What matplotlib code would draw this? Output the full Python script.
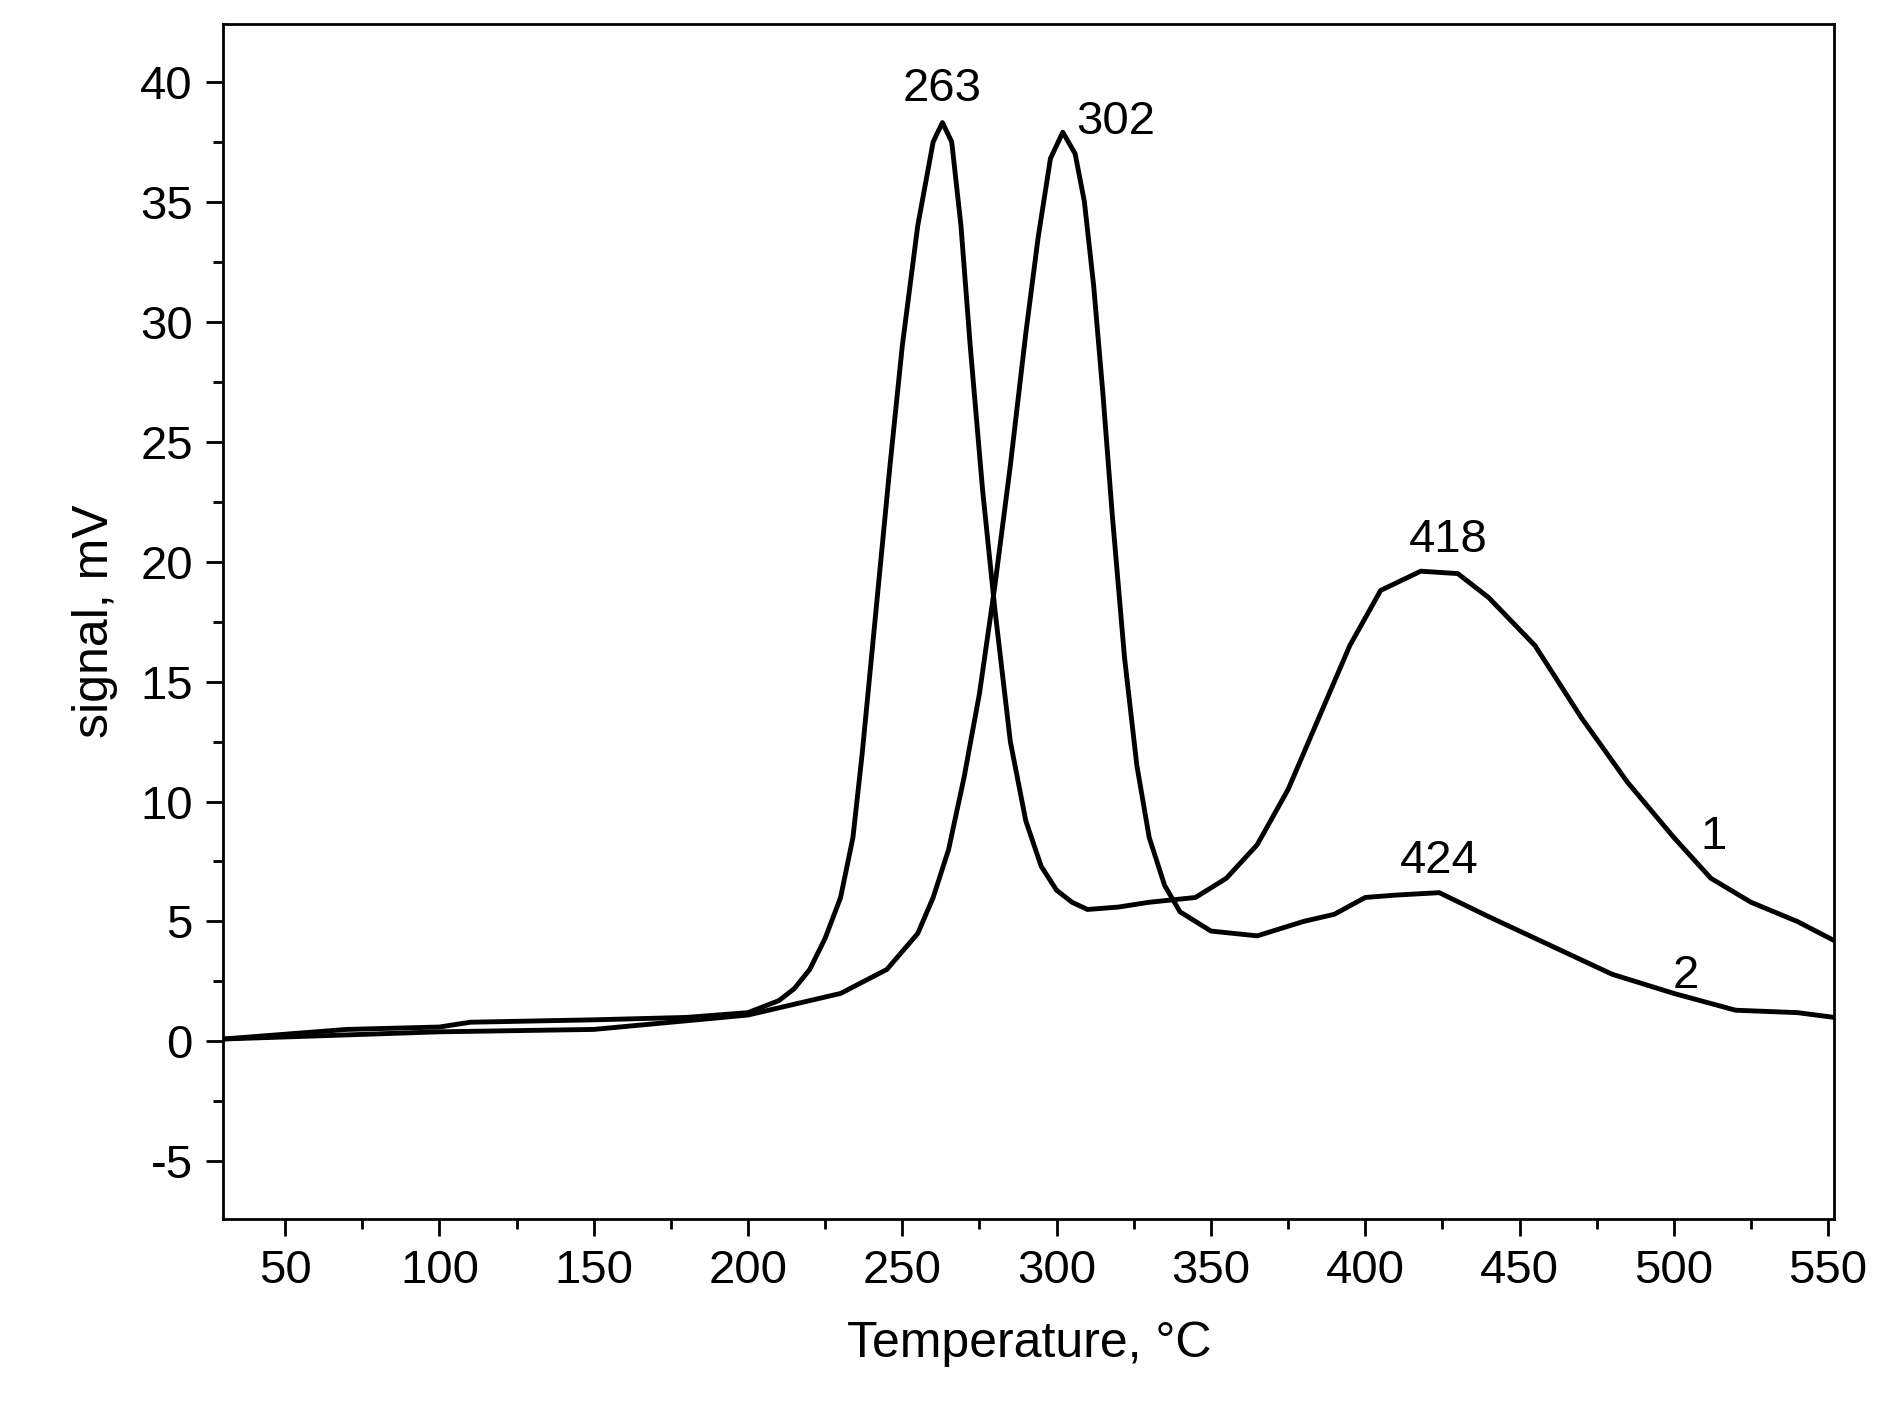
import matplotlib
matplotlib.use("Agg")
import matplotlib.pyplot as plt
from matplotlib.ticker import MultipleLocator

plt.rcParams["font.family"] = "Liberation Sans"
plt.rcParams["axes.unicode_minus"] = False

# curve 1 (peaks 263, 418)
t1 = [30, 70, 100, 110, 150, 180, 200, 210, 215, 220, 225, 230, 234, 237, 240, 243, 246, 250, 255,
      260, 263, 266, 269, 272, 276, 280, 285, 290, 295, 300, 305, 310, 320, 330, 345, 355, 365,
      375, 385, 395, 405, 418, 430, 440, 455, 470, 485, 500, 512, 525, 540, 552]
s1 = [0.1, 0.5, 0.6, 0.8, 0.9, 1.0, 1.2, 1.7, 2.2, 3.0, 4.3, 6.0, 8.5, 12, 16, 20, 24, 29, 34,
      37.5, 38.3, 37.5, 34, 29, 23, 18, 12.5, 9.2, 7.3, 6.3, 5.8, 5.5, 5.6, 5.8, 6.0, 6.8, 8.2,
      10.5, 13.5, 16.5, 18.8, 19.6, 19.5, 18.5, 16.5, 13.5, 10.8, 8.5, 6.8, 5.8, 5.0, 4.2]

# curve 2 (peaks 302, 424)
t2 = [30, 100, 150, 200, 230, 245, 255, 260, 265, 270, 275, 280, 285, 290, 294, 298, 302, 306,
      309, 312, 315, 318, 322, 326, 330, 335, 340, 350, 365, 380, 390, 400, 410, 424, 440, 460,
      480, 500, 520, 540, 552]
s2 = [0.1, 0.4, 0.5, 1.1, 2.0, 3.0, 4.5, 6.0, 8.0, 11, 14.5, 19, 24, 29.5, 33.5, 36.8, 37.9, 37,
      35, 31.5, 27, 22, 16, 11.5, 8.5, 6.5, 5.4, 4.6, 4.4, 5.0, 5.3, 6.0, 6.1, 6.2, 5.2, 4.0,
      2.8, 2.0, 1.3, 1.2, 1.0]

peak_labels = [("263", 263, 38.8), ("302", 319, 37.4), ("418", 427, 20.0), ("424", 424, 6.6)]
curve_labels = [("1", 513, 7.6), ("2", 504, 1.8)]

fig = plt.figure(figsize=(18.93, 14.24), dpi=100)
ax = fig.add_axes([0.118, 0.144, 0.851, 0.839])
ax.plot(t1, s1, color="black", lw=3.5)
ax.plot(t2, s2, color="black", lw=3.5)

for txt, x, y in peak_labels:
    ax.text(x, y, txt, fontsize=34, ha="center", va="bottom")
for txt, x, y in curve_labels:
    ax.text(x, y, txt, fontsize=34, ha="center", va="bottom")

ax.set_xlim(30, 552)
ax.set_ylim(-7.4, 42.4)
ax.xaxis.set_major_locator(MultipleLocator(50))
ax.xaxis.set_minor_locator(MultipleLocator(25))
ax.yaxis.set_major_locator(MultipleLocator(5))
ax.yaxis.set_minor_locator(MultipleLocator(2.5))
ax.tick_params(which="major", length=12, width=2, labelsize=34, direction="out", pad=10)
ax.tick_params(which="minor", length=7, width=2, direction="out")
for sp in ax.spines.values():
    sp.set_linewidth(2)
ax.set_xlabel("Temperature, °C", fontsize=36, labelpad=20)
ax.set_ylabel("signal, mV", fontsize=36, labelpad=16)

fig.savefig("out.png", dpi=100)
